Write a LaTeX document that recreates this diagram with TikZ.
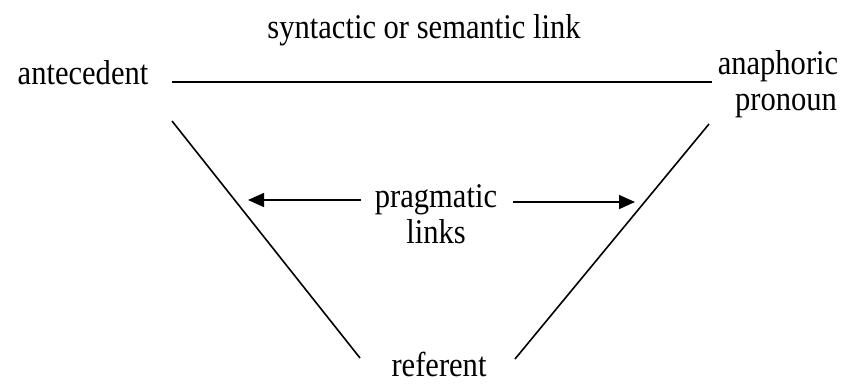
\documentclass[tikz,border=0pt]{standalone}
\usepackage{fontspec}
\setmainfont{Liberation Serif}
\usetikzlibrary{arrows.meta}
\newcommand{\tall}[1]{\scalebox{0.97}[1.1]{#1}}
\begin{document}
\begin{tikzpicture}[x=1pt,y=-1pt,
  lbl/.style={inner sep=0pt,anchor=base,font=\fontsize{31.5}{36}\selectfont},
  ln/.style={line width=1.6pt},
  arr/.style={line width=1.6pt,-{Triangle[length=16pt,width=14pt]}}]
\useasboundingbox (0,0) rectangle (848,383);
\node[lbl] (title) at (424,38) {\tall{syntactic or semantic link}};
\node[lbl] (ante) at (83,84) {\tall{antecedent}};
\node[lbl] (ana) at (778,74) {\tall{anaphoric}};
\node[lbl] (pro) at (786,110) {\tall{pronoun}};
\node[lbl] (prag) at (436,207) {\tall{pragmatic}};
\node[lbl] (links) at (436,243) {\tall{links}};
\node[lbl] (ref) at (439,376) {\tall{referent}};
\coordinate (hl) at (172,82);
\coordinate (hr) at (712,82);
\coordinate (lt) at (172,121);
\coordinate (lb) at (360,358);
\coordinate (rt) at (709,124);
\coordinate (rb) at (515,359);
\coordinate (la) at (248,200);
\coordinate (ra) at (635,202);
\draw[ln] (hl) -- (hr);
\draw[ln] (lt) -- (lb);
\draw[ln] (rt) -- (rb);
\draw[arr] (prag.west |- la) ++(-14,0) coordinate (ls) (ls) -- (la);
\draw[arr] (prag.east |- ra) ++(16,0) coordinate (rs) (rs) -- (ra);
\end{tikzpicture}
\end{document}
